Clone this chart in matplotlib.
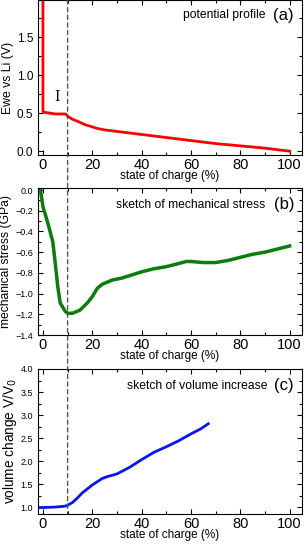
import matplotlib
matplotlib.use("Agg")
import matplotlib.pyplot as plt
from matplotlib.patches import ConnectionPatch
from matplotlib.ticker import MultipleLocator

plt.rcParams['font.family'] = ['Liberation Sans', 'DejaVu Sans']

# (a) potential profile
soc_a = [0, 0, 1, 3, 5, 7, 9, 9.5, 10, 12, 15, 17, 20, 22, 25, 30, 40, 50, 60, 70, 80, 90, 100]
ewe = [2.1, 0.52, 0.51, 0.50, 0.49, 0.49, 0.49, 0.48, 0.46, 0.42, 0.38, 0.35, 0.32, 0.30,
       0.28, 0.26, 0.22, 0.18, 0.14, 0.10, 0.07, 0.04, 0.0]

# (b) mechanical stress
soc_b = [-1, 0, 2, 4, 5, 6, 7, 9, 10, 12, 15, 18, 20, 22, 24, 28, 32, 40, 45, 50, 55,
         58, 60, 65, 70, 75, 80, 85, 90, 95, 100]
stress = [0.0, -0.16, -0.32, -0.50, -0.71, -0.93, -1.09, -1.17, -1.19, -1.19, -1.16, -1.09,
          -1.03, -0.95, -0.91, -0.87, -0.85, -0.79, -0.76, -0.74, -0.71, -0.69, -0.69,
          -0.70, -0.70, -0.68, -0.65, -0.62, -0.60, -0.57, -0.54]

# (c) volume change
soc_c = [-1, 0, 5, 9, 10, 12, 14, 16, 20, 24, 26, 30, 35, 40, 45, 50, 55, 60, 64, 67]
volume = [0.99, 0.99, 1.0, 1.02, 1.04, 1.10, 1.20, 1.31, 1.48, 1.62, 1.66, 1.72, 1.86,
          2.03, 2.19, 2.31, 2.44, 2.59, 2.70, 2.81]

fig = plt.figure(figsize=(3.08, 5.5), dpi=100)
ax_a = fig.add_axes([0.1234, 0.7182, 0.857, 0.2818])
ax_b = fig.add_axes([0.1234, 0.3909, 0.857, 0.2673])
ax_c = fig.add_axes([0.1234, 0.0655, 0.857, 0.2636])

for ax in (ax_a, ax_b, ax_c):
    ax.set_xlim(-2, 105)
    ax.xaxis.set_major_locator(MultipleLocator(20))
    ax.xaxis.set_minor_locator(MultipleLocator(10))
    ax.tick_params(which='both', direction='in', top=True, right=True, width=0.8)
    ax.tick_params(which='major', length=3.5)
    ax.tick_params(which='minor', length=2)
    ax.tick_params(axis='x', labelsize=10.5, pad=2)
    ax.set_xlabel("state of charge (%)", fontsize=8.5, labelpad=-1)
    for s in ax.spines.values():
        s.set_linewidth(0.8)

ax_a.plot(soc_a, ewe, color='#ff0000', lw=2)
ax_a.set_ylim(-0.05, 1.99)
ax_a.yaxis.set_major_locator(MultipleLocator(0.5))
ax_a.yaxis.set_minor_locator(MultipleLocator(0.25))
ax_a.tick_params(axis='y', labelsize=8.5)
ax_a.set_ylabel("Ewe vs Li (V)", fontsize=8.8, labelpad=2)
ax_a.text(5.5, 0.62, "I", family='DejaVu Serif', fontsize=10, ha='center', va='bottom')
ax_a.text(0.86, 0.9, "potential profile", transform=ax_a.transAxes, fontsize=8.7,
          ha='right', va='center')
ax_a.text(0.97, 0.9, "(a)", transform=ax_a.transAxes, fontsize=12, ha='right', va='center')

ax_b.plot(soc_b, stress, color='#0a7d0a', lw=2.5)
ax_b.set_ylim(-1.4, 0.02)
ax_b.yaxis.set_major_locator(MultipleLocator(0.2))
ax_b.yaxis.set_minor_locator(MultipleLocator(0.1))
ax_b.tick_params(axis='y', labelsize=6.5)
ax_b.set_ylabel("mechanical stress (GPa)", fontsize=8.7, labelpad=2)
ax_b.text(0.86, 0.885, "sketch of mechanical stress", transform=ax_b.transAxes,
          fontsize=8.7, ha='right', va='center')
ax_b.text(0.97, 0.885, "(b)", transform=ax_b.transAxes, fontsize=12, ha='right', va='center')

ax_c.plot(soc_c, volume, color='#0a14f0', lw=2)
ax_c.set_ylim(0.85, 4.0)
ax_c.yaxis.set_major_locator(MultipleLocator(0.5))
ax_c.yaxis.set_minor_locator(MultipleLocator(0.25))
ax_c.tick_params(axis='y', labelsize=6.5)
ax_c.set_ylabel("volume change V/V$_0$", fontsize=9.8, labelpad=1)
ax_c.text(0.87, 0.885, "sketch of volume increase", transform=ax_c.transAxes,
          fontsize=8.7, ha='right', va='center')
ax_c.text(0.97, 0.885, "(c)", transform=ax_c.transAxes, fontsize=12, ha='right', va='center')

# dashed marker at 10 % across all panels
con = ConnectionPatch(xyA=(10, 1.99), coordsA=ax_a.transData,
                      xyB=(10, 0.85), coordsB=ax_c.transData,
                      color='#555555', lw=1, linestyle=(0, (3, 2.5)))
fig.add_artist(con)

fig.savefig("out.png", dpi=100)
